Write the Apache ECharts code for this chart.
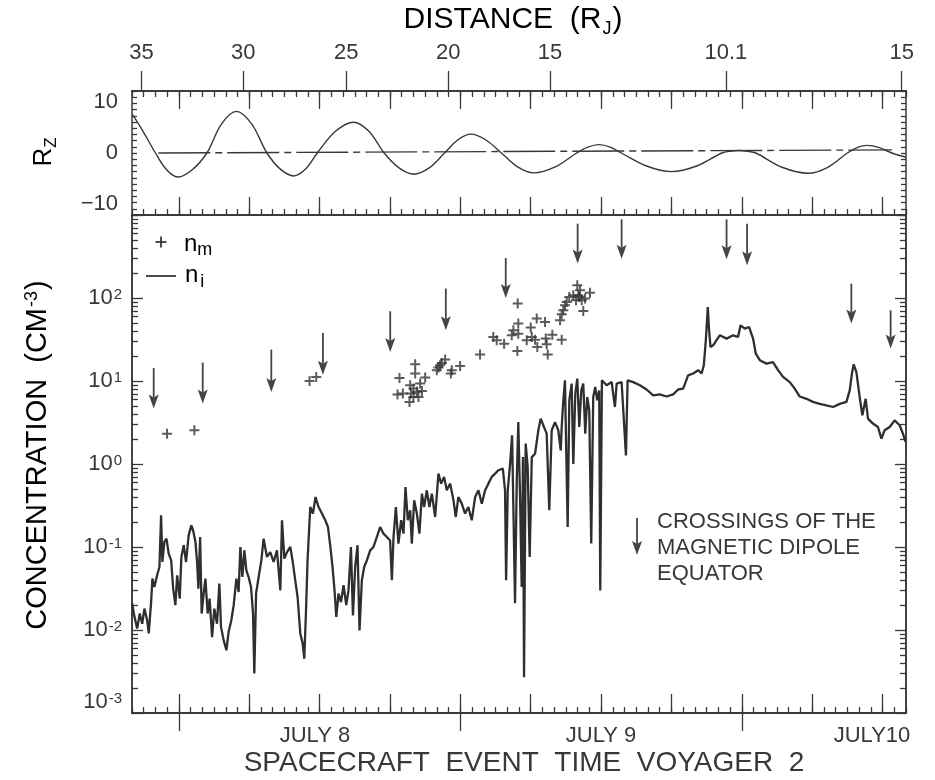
<!DOCTYPE html>
<html><head><meta charset="utf-8">
<script src="https://cdn.jsdelivr.net/npm/echarts@6/dist/echarts.min.js"></script>
<style>html,body{margin:0;padding:0;background:#fff}#c{width:935px;height:780px}</style>
</head><body><div id="c"></div><script>
// ---- DATA (hours after July 8 00:00 SCET) ----
const niHours = [-3.99,-3.79,-3.56,-3.34,-3.13,-2.94,-2.71,-2.57,-2.37,-2.26,
-2.09,-1.86,-1.66,-1.52,-1.41,-1.24,-1.06,-0.87,-0.66,-0.49,
-0.30,-0.15,0.07,0.21,0.41,0.61,0.83,1.06,1.21,1.41,
1.55,1.66,1.81,1.94,2.11,2.26,2.45,2.62,2.83,3.02,
3.25,3.45,3.59,3.82,4.05,4.24,4.47,4.67,4.90,5.09,
5.24,5.41,5.58,5.75,5.94,6.15,6.32,6.43,6.58,6.80,
7.03,7.22,7.51,7.79,8.08,8.36,8.65,8.79,8.99,9.22,
9.50,9.73,9.92,10.12,10.35,10.55,10.69,10.83,10.97,11.20,
11.43,11.65,11.91,12.20,12.48,12.71,12.90,13.10,13.27,13.42,
13.61,13.82,14.04,14.27,14.46,14.67,14.84,15.03,15.23,15.40,
15.60,15.80,16.03,16.31,16.59,16.88,17.16,17.44,17.73,18.01,
18.16,18.30,18.50,18.72,18.95,19.15,19.32,19.52,19.72,19.86,
20.06,20.29,20.51,20.72,20.91,21.14,21.36,21.57,21.85,22.13,
22.36,22.61,22.84,23.13,23.41,23.61,23.83,24.12,24.40,24.68,
24.97,25.26,25.54,25.83,26.11,26.39,26.68,26.96,27.24,27.62,
27.81,27.90,28.04,28.24,28.41,28.52,28.66,28.81,28.94,29.09,
29.23,29.34,29.43,29.57,29.74,29.91,30.09,30.37,30.65,30.85,
31.13,31.36,31.58,31.79,32.07,32.35,32.56,32.64,32.78,32.92,
33.01,33.15,33.29,33.49,33.63,33.80,33.97,34.14,34.31,34.48,
34.65,34.82,34.99,35.16,35.33,35.50,35.67,35.84,35.93,36.07,
36.47,36.90,37.18,37.33,37.75,38.12,38.26,38.74,39.31,39.88,
40.44,41.01,41.58,42.15,42.57,43.00,43.42,43.85,44.28,44.57,
44.76,44.93,45.10,45.21,45.33,45.55,46.12,46.70,47.26,47.68,
47.89,48.25,48.62,48.96,49.19,49.53,50.10,50.66,51.09,51.52,
52.09,52.51,52.94,53.51,54.07,54.64,55.21,55.78,56.35,56.92,
57.20,57.39,57.54,57.77,58.05,58.28,58.56,58.76,59.18,59.61,
59.90,60.18,60.61,61.03,61.46,61.74,61.97];
const niConc = [0.021,0.0144,0.0104,0.0158,0.0119,0.0181,0.0131,0.0091,0.0217,0.0416,
0.033,0.0456,0.0574,0.241,0.066,0.115,0.126,0.083,0.069,0.0315,
0.0199,0.0456,0.0239,0.0758,0.105,0.066,0.138,0.182,0.159,0.115,
0.066,0.0315,0.132,0.0158,0.0275,0.0416,0.0158,0.0239,0.0082,0.0181,
0.0119,0.0362,0.0109,0.0075,0.0057,0.0095,0.0131,0.0199,0.0416,0.0287,
0.1,0.0435,0.0912,0.0524,0.0435,0.033,0.0158,0.003,0.0275,0.0435,
0.069,0.126,0.0758,0.087,0.066,0.0912,0.030,0.21,0.0725,0.087,
0.1,0.063,0.0397,0.025,0.0091,0.0069,0.0045,0.0158,0.069,0.303,
0.253,0.40,0.303,0.253,0.21,0.174,0.105,0.0574,0.030,0.0144,
0.0275,0.0217,0.0346,0.0199,0.030,0.1,0.015,0.0574,0.105,0.0099,
0.0397,0.0574,0.069,0.0912,0.1,0.132,0.174,0.145,0.132,0.12,
0.0397,0.132,0.303,0.11,0.21,0.145,0.528,0.21,0.277,0.11,
0.365,0.253,0.145,0.44,0.303,0.482,0.303,0.44,0.23,0.766,
0.58,0.70,0.482,0.58,0.365,0.23,0.40,0.333,0.253,0.303,
0.21,0.40,0.482,0.333,0.482,0.58,0.70,0.766,0.84,0.88,
0.482,0.0397,0.482,1.0,2.22,0.303,0.021,0.64,3.2,0.40,
0.033,1.21,0.0027,1.76,0.92,0.0758,1.21,1.33,2.55,3.52,
2.79,2.32,0.277,2.55,3.2,2.55,1.46,2.79,5.85,10.2,
1.93,0.174,5.85,9.3,1.0,7.05,10.7,2.79,7.7,9.3,
2.32,6.4,4.44,0.11,6.4,8.5,5.85,7.7,0.030,10.2,
8.9,9.7,4.86,9.3,9.7,1.27,10.2,9.7,8.9,7.9,
6.7,6.9,6.5,6.9,7.9,8.1,11.7,12.3,13.5,12.3,
15.5,30.9,78,40.8,25.7,26.9,35.5,32.4,35.5,33.9,
46.9,42.8,44.7,32.4,21.4,17.8,16.2,16.9,13.5,11.2,
9.7,8.1,6.5,6.1,5.6,5.3,5.1,4.86,5.3,5.6,
7.7,12.3,15.9,12.8,6.4,3.86,6.1,3.52,3.07,2.79,
2.02,2.55,2.79,3.36,2.93,2.32,1.84];

const nmHours = [-1.01,1.32,11.14,11.71,
18.81,20.15,20.15,18.64,19.10,19.72,20.0,20.57,21.0,19.78,20.29,20.72,20.0,19.66,20.43,
21.99,22.27,22.70,22.13,22.42,23.27,23.19,23.98,25.68,
28.89,26.81,27.10,27.73,28.38,28.52,28.94,28.94,28.86,29.66,30.0,30.09,30.37,30.51,30.56,31.22,31.28,31.36,31.45,31.84,32.64,
32.50,32.64,32.78,32.92,33.07,33.29,33.63,33.97,34.20,34.14,34.35,34.63,35.05,34.48,33.86,34.06];
const nmConc = [2.32,2.55,10.0,11.2,
10.9,15.9,12.3,6.9,7.05,8.9,8.1,9.3,11.0,7.05,7.4,7.6,6.4,5.6,6.4,
13.5,15.5,18.1,14.5,16.5,13.5,12.3,15.2,20.8,
85.6,33.9,30.9,28.2,35.5,40.8,49.2,37.2,23.0,30.9,44.0,33.9,31.5,56.5,25.7,51.4,32.4,27.7,20.8,36.2,31.5,
53.9,63.6,71.1,81.6,89.5,103,108,142,124,103,93.8,98.4,116,69.7,93.8,108];

const rzHours = [-3.95,-3.0,-2.0,-1.05,-0.1,1.14,2.38,3.64,4.9,6.2,7.51,8.65,9.8,10.8,11.8,13.35,14.89,16.2,17.5,18.77,20.03,21.34,22.65,23.77,24.88,26.19,27.5,28.88,30.26,32.09,33.92,34.87,35.82,36.78,37.73,39.87,42.0,44.15,46.3,47.0,47.73,48.47,49.2,51.43,53.67,55.33,57.0,57.83,58.67,59.73,60.8,62.0];
const rzValues = [6.17,3.3,0,-2.7,-3.87,-2.7,0,4.7,6.71,4.7,0,-2.6,-3.70,-2.6,0,3.5,4.97,3.5,0,-2.4,-3.42,-2.4,0,2.1,3.04,2.1,0,-2.25,-3.21,-2.25,0,0.95,1.35,0.95,0,-2.1,-3.0,-2.1,0,0.29,0.41,0.29,0,-2.3,-3.26,-2.3,0,0.87,1.23,0.87,0,-0.69];
const refLineHours = [-1.76, 60.8];
const refLineRz = [0, 0.5];

const arrowHours = [-2.15,2.03,7.88,12.28,18.02,22.76,27.87,34.0,37.75,46.70,48.45,57.34,60.69];
const arrowTop = [14.3,16.7,23.9,37.9,69.2,130,303,787,888,888,787,149,71.1];
const arrowTip = [4.65,5.34,7.37,11.9,22.4,40.8,100,260,298,293,248,49.2,24.6];

const distTickHours = [-3.19,5.49,14.27,22.96,31.65,46.64,61.63];
const distTickLabels = ['35','30','25','20','15','10.1','15'];
const dayTickHours = [0,24,48];
const dayLabelHours = [11.6,36,59.1];
const dayLabels = ['JULY 8','JULY 9','JULY10'];
const rzLabelValues = [-10,0,10];

// ---- ticks (axis decoration) ----
const hourTicks = []; for (let h = -4; h <= 62; h++) hourTicks.push(h);
const sixHourTicks = []; for (let h = 0; h <= 60; h += 6) sixHourTicks.push(h);
const rzMinor = []; for (let v = -10; v <= 10; v++) rzMinor.push(v);
const logMinor = []; for (let e = -3; e < 3; e++) for (let k = 2; k <= 9; k++) logMinor.push(+(k * Math.pow(10, e)).toPrecision(3));

const FONT = '"Liberation Sans", Arial, sans-serif';
const INK = '#383838';
const X0 = -4, X1 = 62;

function xAx(grid, pos, extra) {
  return Object.assign({
    type: 'value', gridIndex: grid, position: pos, min: X0, max: X1,
    axisLine: {show: true, onZero: false, lineStyle: {color: INK, width: 1.5}},
    axisTick: {show: false}, axisLabel: {show: false}, splitLine: {show: false}
  }, extra || {});
}
function tk(values, len, inside) {
  return {show: true, inside: inside, length: len, customValues: values, lineStyle: {color: INK, width: 1.3}};
}
function yLog(pos, extra) {
  return Object.assign({
    type: 'log', logBase: 10, gridIndex: 1, position: pos, min: 0.001, max: 1000,
    axisLine: {show: true, onZero: false, lineStyle: {color: INK, width: 1.5}},
    axisTick: {show: false}, axisLabel: {show: false}, splitLine: {show: false}, minorTick: {show: false}
  }, extra || {});
}
function yRz(pos, extra) {
  return Object.assign({
    type: 'value', gridIndex: 0, position: pos, min: -10, max: 10,
    axisLine: {show: true, onZero: false, lineStyle: {color: INK, width: 1.5}}, splitLine: {show: false},
    axisTick: tk(rzMinor, 5, true), axisLabel: {show: false}
  }, extra || {});
}

const chart = echarts.init(document.getElementById('c'), null, {renderer: 'canvas'});
chart.setOption({
  animation: false,
  backgroundColor: '#ffffff',
  grid: [
    {left: 132, right: 29, top: 91, height: 124},
    {left: 132, right: 29, top: 215, height: 498}
  ],
  xAxis: [
    xAx(0, 'bottom', {axisTick: tk(hourTicks, 6, true)}),
    xAx(0, 'bottom', {axisTick: tk(sixHourTicks, 18, true)}),
    xAx(0, 'top', {axisTick: tk(hourTicks, 6, true)}),
    xAx(0, 'top', {axisTick: tk(sixHourTicks, 18, true)}),
    xAx(0, 'top', {axisTick: tk(distTickHours, 20, false),
      axisLabel: {show: true, customValues: distTickHours, margin: 27, fontFamily: FONT, fontSize: 22, color: INK,
        formatter: function (v) { for (let i = 0; i < distTickHours.length; i++) if (Math.abs(distTickHours[i] - v) < 1e-6) return distTickLabels[i]; return ''; }}}),
    xAx(1, 'bottom', {axisTick: tk(hourTicks, 6, true)}),
    xAx(1, 'bottom', {axisTick: tk(sixHourTicks, 19, true)}),
    xAx(1, 'bottom', {axisTick: tk(dayTickHours, 18, false),
      axisLabel: {show: true, customValues: dayLabelHours, margin: 12, fontFamily: FONT, fontSize: 22, color: INK,
        formatter: function (v) { for (let i = 0; i < dayLabelHours.length; i++) if (Math.abs(dayLabelHours[i] - v) < 1e-6) return dayLabels[i]; return ''; }}}),
    xAx(1, 'top', {})
  ],
  yAxis: [
    yRz('left', {axisLabel: {show: true, customValues: rzLabelValues, margin: 14, fontFamily: FONT, fontSize: 22, color: INK,
        verticalAlignMinLabel: 'bottom', verticalAlignMaxLabel: 'top',
        formatter: function (v) { return v < 0 ? '\u2212' + (-v) : String(v); }}}),
    yRz('right'),
    yLog('left', {axisTick: {show: true, inside: true, length: 11, lineStyle: {color: INK, width: 1.3}},
      axisLabel: {show: true, margin: 10, color: INK, verticalAlignMinLabel: 'bottom',
        formatter: function (v) { const e = Math.round(Math.log10(v)); if (e >= 3) return ''; return '{b|10}{s|' + e + '}'; },
        rich: {b: {fontFamily: FONT, fontSize: 22, color: INK, lineHeight: 22, verticalAlign: 'bottom'},
               s: {fontFamily: FONT, fontSize: 15, color: INK, lineHeight: 15, verticalAlign: 'top', padding: [0, 0, 16, 1]}}}}),
    yLog('left', {axisTick: tk(logMinor, 6, true)}),
    yLog('right', {axisTick: {show: true, inside: true, length: 11, lineStyle: {color: INK, width: 1.3}}}),
    yLog('right', {axisTick: tk(logMinor, 6, true)})
  ],
  series: [
    {type: 'line', name: 'Rz', xAxisIndex: 0, yAxisIndex: 0, showSymbol: false, smooth: 0.35,
      data: rzHours.map((h, i) => [h, rzValues[i]]), lineStyle: {color: INK, width: 1.4}},
    {type: 'line', name: 'ref', xAxisIndex: 0, yAxisIndex: 0, showSymbol: false,
      data: refLineHours.map((h, i) => [h, refLineRz[i]]), lineStyle: {color: INK, width: 1.4, type: [52, 5, 7, 5]}},
    {type: 'line', name: 'n_i', xAxisIndex: 5, yAxisIndex: 2, showSymbol: false,
      data: niHours.map((h, i) => [h, niConc[i]]), lineStyle: {color: '#2f2f2f', width: 2.3, join: 'bevel'}},
    {type: 'scatter', name: 'n_m', xAxisIndex: 5, yAxisIndex: 2,
      symbol: 'path://M4,0L6,0L6,4L10,4L10,6L6,6L6,10L4,10L4,6L0,6L0,4L4,4Z', symbolSize: 10,
      data: nmHours.map((h, i) => [h, nmConc[i]]), itemStyle: {color: '#333'}},
    {type: 'custom', name: 'crossings', xAxisIndex: 5, yAxisIndex: 2,
      encode: {x: 0, y: [1, 2]},
      data: arrowHours.map((h, i) => [h, arrowTop[i], arrowTip[i]]),
      renderItem: function (params, api) {
        const top = api.coord([api.value(0), api.value(1)]);
        const tip = api.coord([api.value(0), api.value(2)]);
        const head = 13, hw = 5;
        return {type: 'group', children: [
          {type: 'line', shape: {x1: top[0], y1: top[1], x2: tip[0], y2: tip[1] - head + 2}, style: {stroke: '#454545', lineWidth: 1.8}},
          {type: 'polygon', shape: {points: [[tip[0] - hw, tip[1] - head - 1], [tip[0], tip[1] - head + 2], [tip[0] + hw, tip[1] - head - 1], [tip[0], tip[1]]]}, style: {fill: '#454545'}}
        ]};
      }}
  ],
  graphic: [
    {type: 'text', x: 513, y: 20, style: {text: '{a|DISTANCE  (R}{s|J}{a|)}', align: 'center', verticalAlign: 'middle',
      rich: {a: {fontFamily: FONT, fontSize: 30, color: INK, lineHeight: 30, verticalAlign: 'top'},
             s: {fontFamily: FONT, fontSize: 18, color: INK, lineHeight: 18, verticalAlign: 'top', padding: [15, 1, 0, 1]}}}},
    {type: 'text', x: 44, y: 152, rotation: Math.PI / 2, style: {text: '{a|R}{s|Z}', align: 'center', verticalAlign: 'middle',
      rich: {a: {fontFamily: FONT, fontSize: 26, color: INK, lineHeight: 26, verticalAlign: 'top'},
             s: {fontFamily: FONT, fontSize: 17, color: INK, lineHeight: 17, verticalAlign: 'top', padding: [12, 0, 0, 0]}}}},
    {type: 'text', x: 38, y: 455, rotation: Math.PI / 2, style: {text: '{a|CONCENTRATION  (CM}{p|-3}{a|)}', align: 'center', verticalAlign: 'middle',
      rich: {a: {fontFamily: FONT, fontSize: 29, color: INK, lineHeight: 29, verticalAlign: 'bottom'},
             p: {fontFamily: FONT, fontSize: 18, color: INK, lineHeight: 18, verticalAlign: 'top', padding: [0, 1, 14, 1]}}}},
    {type: 'text', x: 524, y: 763, style: {text: 'SPACECRAFT  EVENT  TIME  VOYAGER  2', align: 'center', verticalAlign: 'middle',
      font: '28px "Liberation Sans", Arial, sans-serif', fill: INK}},
    // legend n_m
    {type: 'line', shape: {x1: 155.5, y1: 242, x2: 166.5, y2: 242}, style: {stroke: INK, lineWidth: 1.8}},
    {type: 'line', shape: {x1: 161, y1: 236.5, x2: 161, y2: 247.5}, style: {stroke: INK, lineWidth: 1.8}},
    {type: 'text', x: 184, y: 244, style: {text: '{a|n}{s|m}', align: 'left', verticalAlign: 'middle',
      rich: {a: {fontFamily: FONT, fontSize: 24, color: INK, lineHeight: 24, verticalAlign: 'top'},
             s: {fontFamily: FONT, fontSize: 18, color: INK, lineHeight: 18, verticalAlign: 'top', padding: [9, 0, 0, 0]}}}},
    // legend n_i
    {type: 'line', shape: {x1: 146, y1: 276, x2: 176, y2: 276}, style: {stroke: INK, lineWidth: 1.8}},
    {type: 'text', x: 185, y: 275, style: {text: '{a|n}{s|i}', align: 'left', verticalAlign: 'middle',
      rich: {a: {fontFamily: FONT, fontSize: 24, color: INK, lineHeight: 24, verticalAlign: 'top'},
             s: {fontFamily: FONT, fontSize: 18, color: INK, lineHeight: 18, verticalAlign: 'top', padding: [10, 0, 0, 2]}}}},
    // crossings legend
    {type: 'line', shape: {x1: 637, y1: 518, x2: 637, y2: 545}, style: {stroke: '#454545', lineWidth: 1.8}},
    {type: 'polygon', shape: {points: [[632, 541], [637, 544], [642, 541], [637, 555]]}, style: {fill: '#454545'}},
    {type: 'text', x: 657, y: 509, style: {text: 'CROSSINGS OF THE\nMAGNETIC DIPOLE\nEQUATOR', align: 'left', verticalAlign: 'top',
      font: '22px "Liberation Sans", Arial, sans-serif', fill: INK, lineHeight: 26}}
  ]
});
</script></body></html>
